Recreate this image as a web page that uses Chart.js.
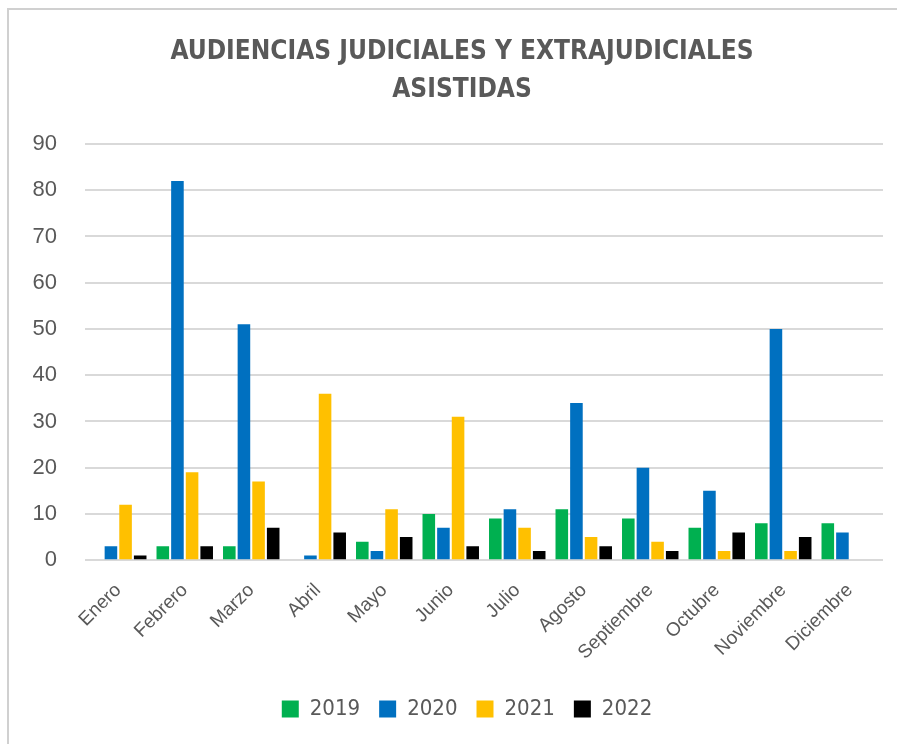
<!DOCTYPE html>
<html lang="es">
<head>
    <meta charset="UTF-8">
    <title>Audiencias judiciales y extrajudiciales asistidas</title>
    <script src="https://cdn.jsdelivr.net/npm/chart.js@4/dist/chart.umd.min.js"></script>
    <style>
        body {
            margin: 0;
            background: #fff;
        }
        #wrap {
            width: 897px;
            height: 744px;
        }
    </style>
</head>
<body>
    <div id="wrap">
        <canvas id="chart" width="897" height="744"></canvas>
    </div>

    <script>
        const meses = ['Enero', 'Febrero', 'Marzo', 'Abril', 'Mayo', 'Junio', 'Julio',
            'Agosto', 'Septiembre', 'Octubre', 'Noviembre', 'Diciembre'];
        const anios = ['2019', '2020', '2021', '2022'];
        const datos2019 = [null, 3, 3, null, 4, 10, 9, 11, 9, 7, 8, 8];
        const datos2020 = [3, 82, 51, 1, 2, 7, 11, 34, 20, 15, 50, 6];
        const datos2021 = [12, 19, 17, 36, 11, 31, 7, 5, 4, 2, 2, null];
        const datos2022 = [1, 3, 7, 6, 5, 3, 2, 3, 2, 6, 5, null];
        const colores = ['#00b050', '#0070c0', '#ffc000', '#000000'];
        const titulo = ['AUDIENCIAS JUDICIALES Y EXTRAJUDICIALES', 'ASISTIDAS'];

        const gris = '#595959';
        const narrow = "'DejaVu Sans Condensed', 'Liberation Sans', Arial, sans-serif";
        const normal = "'Liberation Sans', Arial, sans-serif";

        // marco gris alrededor del área del gráfico
        const marco = {
            id: 'marco',
            beforeDraw(chart) {
                const ctx = chart.ctx;
                ctx.save();
                ctx.fillStyle = '#fff';
                ctx.fillRect(0, 0, chart.width, chart.height);
                ctx.strokeStyle = '#d0d0d0';
                ctx.lineWidth = 2;
                ctx.strokeRect(8, 9, chart.width + 20, chart.height + 20);
                ctx.restore();
            }
        };

        // título centrado como en Excel (un poco a la derecha del centro del lienzo)
        const tituloPlugin = {
            id: 'tituloPlugin',
            afterDraw(chart) {
                const ctx = chart.ctx;
                ctx.save();
                ctx.fillStyle = gris;
                ctx.font = "bold 26px " + narrow;
                ctx.textAlign = 'center';
                ctx.textBaseline = 'middle';
                titulo.forEach((t, i) => ctx.fillText(t, 462, 52 + i * 38));
                ctx.restore();
            }
        };

        // la leyenda del original queda algo a la izquierda del centro del área
        const moverLeyenda = {
            id: 'moverLeyenda',
            afterLayout(chart) {
                if (chart.legend) {
                    chart.legend.left -= 17;
                    chart.legend.right -= 17;
                }
            }
        };

        const series = [datos2019, datos2020, datos2021, datos2022];

        new Chart(document.getElementById('chart'), {
            type: 'bar',
            data: {
                labels: meses,
                datasets: series.map((d, i) => ({
                    label: anios[i],
                    data: d,
                    backgroundColor: colores[i],
                    borderWidth: 0,
                    categoryPercentage: 0.88,
                    barPercentage: 0.86
                }))
            },
            options: {
                responsive: false,
                animation: false,
                layout: {
                    padding: { left: 23, right: 14, top: 144, bottom: 14 }
                },
                plugins: {
                    title: { display: false },
                    legend: {
                        position: 'bottom',
                        fullSize: false,
                        labels: {
                            color: gris,
                            font: { family: narrow, size: 22 },
                            boxWidth: 17,
                            boxHeight: 17,
                            padding: 19
                        }
                    },
                    tooltip: { enabled: false }
                },
                scales: {
                    x: {
                        grid: { display: false },
                        border: { display: false },
                        ticks: {
                            color: gris,
                            font: { family: normal, size: 19 },
                            minRotation: 45,
                            maxRotation: 45,
                            padding: 11
                        },
                        afterFit(scale) {
                            scale.height += 4;
                        }
                    },
                    y: {
                        min: 0,
                        max: 90,
                        ticks: {
                            stepSize: 10,
                            color: gris,
                            font: { family: normal, size: 22 },
                            padding: 28
                        },
                        grid: { color: '#d9d9d9', lineWidth: 2, drawTicks: false },
                        border: { display: false },
                        afterFit(scale) {
                            scale.width = 62;
                        }
                    }
                }
            },
            plugins: [marco, tituloPlugin, moverLeyenda]
        });
    </script>
</body>
</html>
